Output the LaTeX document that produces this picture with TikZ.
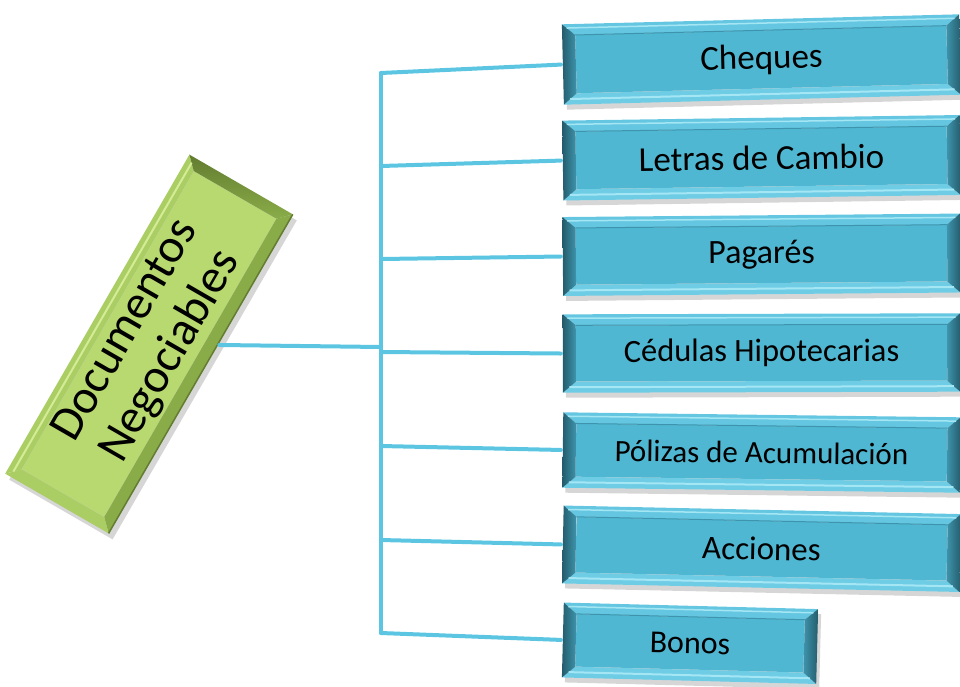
\documentclass[tikz,border=0pt]{standalone}
\usepackage{fontspec}
\setmainfont{Carlito}
\usetikzlibrary{positioning, calc, backgrounds}

\definecolor{linkblue}{RGB}{92,198,226}
\definecolor{bluefill}{RGB}{80,183,210}
\definecolor{bluetop}{RGB}{100,198,224}
\definecolor{bluebot}{RGB}{110,204,228}
\definecolor{blueshine}{RGB}{165,230,245}
\definecolor{bluedeep}{RGB}{36,92,108}
\definecolor{bluemid}{RGB}{62,148,172}
\definecolor{greenfill}{RGB}{184,216,112}
\definecolor{greenlite}{RGB}{170,205,100}
\definecolor{greenmid}{RGB}{138,172,72}
\definecolor{greendeep}{RGB}{98,124,48}
\definecolor{greenshine}{RGB}{212,236,150}

\begin{document}
\begin{tikzpicture}[x=1pt, y=-1pt,
        item/.style={rectangle, inner sep=0pt, text=black},
        itemface/.style={rectangle, inner sep=0pt, fill=bluefill},
        topicface/.style={rectangle, inner sep=0pt, fill=greenfill},
        link/.style={draw=linkblue, line width=4pt, line cap=round, line join=round},
        boxshadow/.style={fill=black, opacity=0.16},
    ]
    \useasboundingbox (0,0) rectangle (960,686);

    % Main topic
    \node[item, minimum width=368pt, minimum height=119pt, rotate=60, align=center,
        font=\fontsize{48}{52}\selectfont] (docs) at (149,344) {Documentos\\Negociables};
    \begin{scope}[on background layer]
        \fill[boxshadow] ([shift={(4,6)}]docs.north west) -- ([shift={(4,6)}]docs.north east)
            -- ([shift={(4,6)}]docs.south east) -- ([shift={(4,6)}]docs.south west) -- cycle;
        \node[topicface, minimum width=344pt, minimum height=95pt, rotate=60] (docs-in) at (docs) {};
        \fill[greenlite] (docs.north west) -- (docs.north east) -- (docs-in.north east) -- (docs-in.north west) -- cycle;
        \shade[top color=greendeep, bottom color=greenmid] (docs.north east) -- (docs.south east)
            -- (docs-in.south east) -- (docs-in.north east) -- cycle;
        \fill[greenmid] (docs.south west) -- (docs.south east) -- (docs-in.south east) -- (docs-in.south west) -- cycle;
        \fill[greenlite] (docs.north west) -- (docs-in.north west) -- (docs-in.south west) -- (docs.south west) -- cycle;
        \draw[greenshine, line width=2pt] ($(docs.north west)!.5!(docs-in.north west)$) -- ($(docs.north east)!.5!(docs-in.north east)$);
        \draw[greendeep, line width=1.5pt] (docs.south west) -- (docs.south east);
    \end{scope}

    % Items
    \foreach \nm/\px/\py/\bw/\bh/\ang/\fs/\lbl in {
        cheques/761.5/59.5/397/80/1.44/35/Cheques,
        letras/761.5/157.75/397/79.5/0.8/35/Letras de Cambio,
        pagares/761.5/254.75/397/78.5/0.5/34/Pagarés,
        cedulas/761.5/353/397/78/0.15/32.5/Cédulas Hipotecarias,
        polizas/761.5/452.5/397/75/-0.72/31/Pólizas de Acumulación,
        acciones/761.5/548.75/397/77.5/-1.23/33/Acciones,
        bonos/690/643.25/254/74.5/-1.47/32/Bonos}{
        \node[item, minimum width=\bw pt, minimum height=\bh pt, rotate=\ang,
            font=\fontsize{\fs}{\fs}\selectfont] (\nm) at (\px,\py) {\lbl};
        \begin{scope}[on background layer]
            \fill[boxshadow] ([shift={(3,5)}]\nm.north west) -- ([shift={(3,5)}]\nm.north east)
                -- ([shift={(3,5)}]\nm.south east) -- ([shift={(3,5)}]\nm.south west) -- cycle;
            \node[itemface, minimum width={\bw-26}, minimum height={\bh-22}, rotate=\ang] (\nm-in) at (\nm) {};
            \fill[bluetop] (\nm.north west) -- (\nm.north east) -- (\nm-in.north east) -- (\nm-in.north west) -- cycle;
            \fill[bluebot] (\nm.south west) -- (\nm.south east) -- (\nm-in.south east) -- (\nm-in.south west) -- cycle;
            \shade[left color=bluedeep, right color=bluemid] (\nm.north west) -- (\nm-in.north west)
                -- (\nm-in.south west) -- (\nm.south west) -- cycle;
            \shade[left color=bluemid, right color=bluedeep] (\nm.north east) -- (\nm.south east)
                -- (\nm-in.south east) -- (\nm-in.north east) -- cycle;
            \draw[blueshine, line width=1.5pt] ($(\nm.north west)!.35!(\nm-in.north west)$) -- ($(\nm.north east)!.35!(\nm-in.north east)$);
            \draw[blueshine, line width=2pt] ($(\nm.south west)!.5!(\nm-in.south west)$) -- ($(\nm.south east)!.5!(\nm-in.south east)$);
            \draw[bluemid, line width=1pt] (\nm-in.north west) -- (\nm-in.north east);
        \end{scope}
    }

    % Bus
    \coordinate (hub) at (381,347);
    \foreach \k/\yb in {1/73, 2/166, 3/259, 4/352, 5/446, 6/540, 7/633}
        \coordinate (b\k) at (381,\yb);

    % Links
    \draw[link, shorten <=2pt] (docs) -- (hub);
    \draw[link] (b1) -- (b7);
    \foreach \k/\nm in {1/cheques, 2/letras, 3/pagares, 4/cedulas, 5/polizas, 6/acciones, 7/bonos}
        \draw[link, shorten >=2pt] (b\k) -- (\nm.west);
\end{tikzpicture}
\end{document}
